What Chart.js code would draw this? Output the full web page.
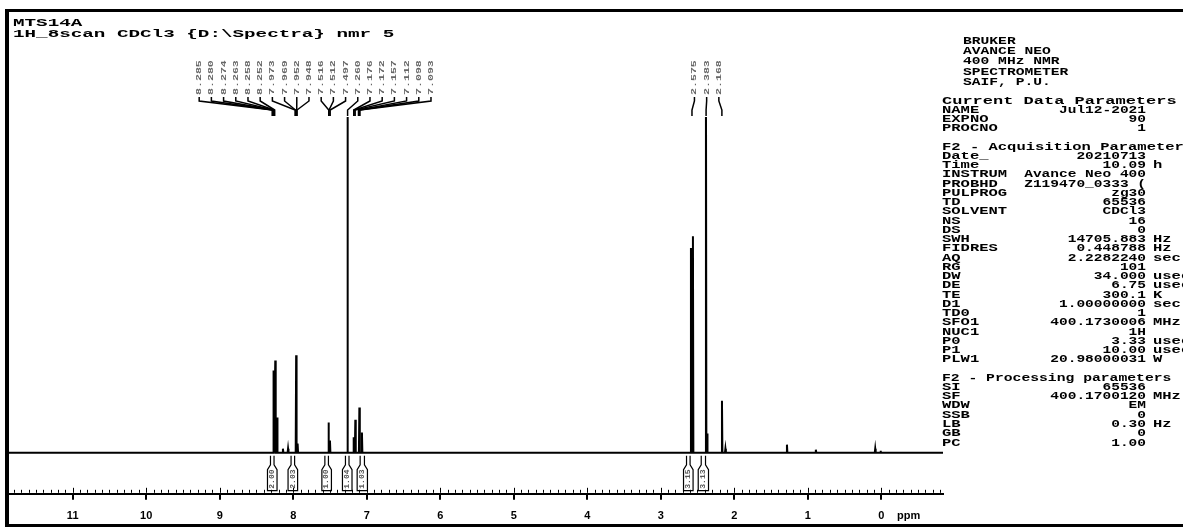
<!DOCTYPE html>
<html>
<head>
<meta charset="utf-8">
<title>MTS14A 1H NMR</title>
<script src="https://cdn.jsdelivr.net/npm/chart.js@4.4.1/dist/chart.umd.min.js"></script>
<style>
  html, body { margin: 0; padding: 0; background: #fff; overflow: hidden; }
  canvas { display: block; }
</style>
</head>
<body>
<canvas id="nmrChart" width="1183" height="527"></canvas>
<script>
// peaks: position (ppm) and height (% of full scale, >100 gets clipped)
const peakPpm = [8.267, 8.244, 8.22, 8.14, 8.07, 7.96, 7.94, 7.52, 7.50, 7.262, 7.18, 7.155, 7.10, 7.065,
                 2.589, 2.562, 2.385, 2.37, 2.167, 2.12, 1.283, 0.89, 0.082, 0.01];
const peakHeight = [24.5, 27.5, 10.5, 1.2, 1.2, 29, 2.7, 9, 3.6, 120, 4.6, 9.8, 13.5, 6,
                    61, 64.5, 120, 5.7, 15.5, 1.2, 2.4, 0.9, 1.2, 0.6];

// picked peak labels (two groups)
const labelsAromatic = [8.285, 8.280, 8.274, 8.263, 8.258, 8.252, 7.973, 7.969, 7.952, 7.948,
                        7.516, 7.512, 7.497, 7.260, 7.176, 7.172, 7.157, 7.112, 7.098, 7.093];
const labelsAliphatic = [2.575, 2.383, 2.168];

// integral regions
const integralFrom = [8.35, 8.07, 7.61, 7.33, 7.13, 2.69, 2.49];
const integralTo = [8.22, 7.94, 7.48, 7.20, 6.99, 2.56, 2.35];
const integralValue = ['2.00', '2.03', '1.00', '1.04', '1.03', '3.15', '3.13'];

const ppmMin = -0.84;
const ppmMax = 11.88;

// acquisition / processing parameters panel
const panelHeader = ['BRUKER', 'AVANCE NEO', '400 MHz NMR', 'SPECTROMETER', 'SAIF, P.U.'];
const currentParams = [['NAME', 'Jul12-2021', ''], ['EXPNO', '90', ''], ['PROCNO', '1', '']];
const acqParams = [
  ['Date_', '20210713', ''], ['Time', '10.09', 'h'], ['INSTRUM', 'Avance Neo 400', ''],
  ['PROBHD', 'Z119470_0333 (', ''], ['PULPROG', 'zg30', ''], ['TD', '65536', ''],
  ['SOLVENT', 'CDCl3', ''], ['NS', '16', ''], ['DS', '0', ''], ['SWH', '14705.883', 'Hz'],
  ['FIDRES', '0.448788', 'Hz'], ['AQ', '2.2282240', 'sec'], ['RG', '101', ''],
  ['DW', '34.000', 'usec'], ['DE', '6.75', 'usec'], ['TE', '300.1', 'K'],
  ['D1', '1.00000000', 'sec'], ['TD0', '1', ''], ['SFO1', '400.1730006', 'MHz'],
  ['NUC1', '1H', ''], ['P0', '3.33', 'usec'], ['P1', '10.00', 'usec'], ['PLW1', '20.98000031', 'W']
];
const procParams = [
  ['SI', '65536', ''], ['SF', '400.1700120', 'MHz'], ['WDW', 'EM', ''], ['SSB', '0', ''],
  ['LB', '0.30', 'Hz'], ['GB', '0', ''], ['PC', '1.00', '']
];

// build the trace: baseline, then a narrow spike for each peak
const halfWidth = 0.006;
const trace = [{ x: ppmMax, y: 0 }];
peakPpm.forEach((p, i) => {
  trace.push({ x: p + halfWidth, y: 0 });
  trace.push({ x: p, y: peakHeight[i] });
  trace.push({ x: p - halfWidth, y: 0 });
});
trace.push({ x: ppmMin, y: 0 });

const mono = '"Liberation Mono", "DejaVu Sans Mono", monospace';

function scaledText(c, text, x, y, sx, align) {
  c.save();
  c.translate(x, y);
  c.scale(sx, 1);
  c.textAlign = align || 'left';
  c.fillText(text, 0, 0);
  c.restore();
}

const decorations = {
  id: 'decorations',
  beforeDraw(chart) {
    const c = chart.ctx;
    c.save();
    c.fillStyle = '#fff';
    c.fillRect(0, 0, chart.width, chart.height);
    c.restore();
  },
  afterDraw(chart) {
    const c = chart.ctx;
    const xs = chart.scales.x;
    const ys = chart.scales.y;
    const area = chart.chartArea;
    const base = ys.getPixelForValue(0);
    c.save();

    // frame
    c.fillStyle = '#000';
    c.fillRect(5, 9, chart.width - 5, 3);
    c.fillRect(5, 9, 4, chart.height - 9);
    c.fillRect(5, chart.height - 3, chart.width - 5, 3);

    // title
    c.fillStyle = '#000';
    c.textBaseline = 'middle';
    c.font = 'bold 11px ' + mono;
    scaledText(c, 'MTS14A', 13, 23, 1.75);
    scaledText(c, '1H_8scan CDCl3 {D:\\Spectra} nmr 5', 13, 34, 1.75);

    // minor ticks on the ppm axis
    const axisY = area.bottom;
    c.strokeStyle = '#000';
    c.lineWidth = 1;
    for (let i = Math.ceil(ppmMin * 10); i <= Math.floor(ppmMax * 10); i++) {
      const px = Math.round(xs.getPixelForValue(i / 10)) + 0.5;
      const len = i % 10 === 0 ? 5 : 3;
      c.beginPath();
      c.moveTo(px, axisY - 1);
      c.lineTo(px, axisY - 1 - len);
      c.stroke();
    }
    c.font = 'bold 11px "Liberation Sans", Arial, sans-serif';
    c.textAlign = 'left';
    c.fillText('ppm', 897, 516);

    // peak labels with connectors
    const drawLabels = (list) => {
      const pxs = list.map(p => xs.getPixelForValue(p));
      const center = pxs.reduce((a, b) => a + b, 0) / pxs.length;
      const step = 12.2;
      list.forEach((p, i) => {
        const lx = center + (i - (list.length - 1) / 2) * step;
        c.strokeStyle = '#000';
        c.lineWidth = 1.5;
        c.beginPath();
        c.moveTo(lx, 97);
        c.lineTo(lx, 101);
        c.lineTo(pxs[i], 110);
        c.lineTo(pxs[i], 116);
        c.stroke();
        c.save();
        c.translate(lx, 95);
        c.rotate(-Math.PI / 2);
        c.fillStyle = '#666';
        c.font = 'bold 8px ' + mono;
        c.textBaseline = 'middle';
        scaledText(c, p.toFixed(3), 0, 0, 1.45);
        c.restore();
      });
    };
    drawLabels(labelsAromatic);
    drawLabels(labelsAliphatic);

    // integrals under the baseline
    integralFrom.forEach((a, i) => {
      const x1 = xs.getPixelForValue(a);
      const x2 = xs.getPixelForValue(integralTo[i]);
      c.strokeStyle = '#000';
      c.lineWidth = 1.2;
      c.beginPath();
      c.moveTo(x1 + 3, base + 3);
      c.lineTo(x1 + 3, base + 12);
      c.lineTo(x1, base + 17);
      c.lineTo(x1, base + 38);
      c.lineTo(x2, base + 38);
      c.lineTo(x2, base + 17);
      c.lineTo(x2 - 3, base + 12);
      c.lineTo(x2 - 3, base + 3);
      c.stroke();
      c.save();
      c.translate((x1 + x2) / 2, base + 36);
      c.rotate(-Math.PI / 2);
      c.fillStyle = '#555';
      c.font = 'bold 7px ' + mono;
      c.textBaseline = 'middle';
      scaledText(c, integralValue[i], 0, 0, 1.15);
      c.restore();
    });

    // parameters panel
    c.fillStyle = '#000';
    c.textBaseline = 'middle';
    c.font = 'bold 11px ' + mono;
    panelHeader.forEach((t, i) => scaledText(c, t, 963, 41 + i * 10.3, 1.33));

    c.font = 'bold 10px ' + mono;
    const sx = 1.55;
    const drawRows = (title, titleScale, rows, y0, step) => {
      scaledText(c, title, 942, y0, titleScale);
      rows.forEach((r, i) => {
        const y = y0 + (i + 1) * step;
        scaledText(c, r[0], 942, y, sx);
        scaledText(c, r[1], 1146, y, 1.45, 'right');
        if (r[2]) scaledText(c, r[2], 1153, y, sx);
      });
    };
    drawRows('Current Data Parameters', 1.7, currentParams, 101, 9);
    drawRows('F2 - Acquisition Parameters', 1.55, acqParams, 147, 9.26);
    drawRows('F2 - Processing parameters', 1.47, procParams, 378, 9.3);

    c.restore();
  }
};

new Chart(document.getElementById('nmrChart'), {
  type: 'line',
  data: {
    datasets: [{
      data: trace,
      borderColor: '#000',
      borderWidth: 2,
      pointRadius: 0,
      tension: 0,
      fill: false
    }]
  },
  options: {
    responsive: false,
    animation: false,
    layout: { padding: { left: 8, right: 240, top: 117, bottom: -6 } },
    plugins: {
      legend: { display: false },
      tooltip: { enabled: false }
    },
    scales: {
      x: {
        type: 'linear',
        reverse: true,
        min: ppmMin,
        max: ppmMax,
        border: { display: true, color: '#000', width: 2 },
        grid: { drawOnChartArea: false, color: '#000', lineWidth: 2, tickLength: 6 },
        ticks: {
          stepSize: 1,
          includeBounds: false,
          autoSkip: false,
          maxRotation: 0,
          padding: 10,
          color: '#000',
          font: { family: '"Liberation Sans", Arial, sans-serif', size: 11, weight: 'bold' },
          callback: v => Number.isInteger(v) ? String(v) : ''
        }
      },
      y: { display: false, min: -12.24, max: 100 }
    }
  },
  plugins: [decorations]
});
</script>
</body>
</html>
